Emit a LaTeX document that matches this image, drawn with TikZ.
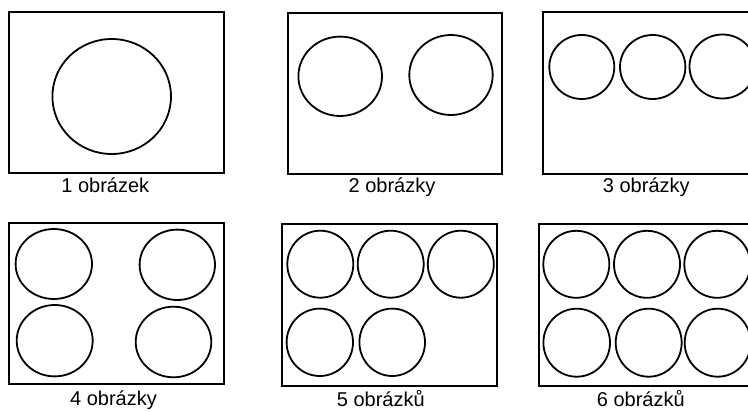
\documentclass[tikz,border=0pt]{standalone}
\usepackage{fontspec}
\setmainfont{Liberation Sans}
\begin{document}
\begin{tikzpicture}[x=1pt, y=-1pt, line width=1.9pt,
    caption/.style={anchor=base, inner sep=0pt, font=\fontsize{20}{24}\selectfont},
    ring/.style={line width=1.8pt}]
    \clip (0,0) rectangle (748,412);

    % 1 picture
    \draw (9,12) rectangle (224,173);
    \draw[ring] (111.7,96.5) ellipse (59.3pt and 57.5pt);
    \node[caption] (one) at (105.3,192.3) {1 obrázek};

    % 2 pictures
    \draw (287.7,12.7) rectangle (502.3,173.7);
    \draw[ring] (340.2,76.3) ellipse (41.8pt and 39.7pt);
    \draw[ring] (451,75) ellipse (41.7pt and 40pt);
    \node[caption] (two) at (392,192.3) {2 obrázky};

    % 3 pictures (cut off on the right)
    \draw (542.7,12.3) rectangle (770,173.7);
    \draw[ring] (581.8,67) ellipse (32.5pt and 32pt);
    \draw[ring] (652.7,67) ellipse (32.7pt and 32pt);
    \draw[ring] (722.5,66.5) ellipse (33pt and 32pt);
    \node[caption] (three) at (646.3,192.3) {3 obrázky};

    % 4 pictures
    \draw (9,223.3) rectangle (223.7,384.3);
    \draw[ring] (53.8,264) ellipse (38.2pt and 35pt);
    \draw[ring] (177.3,264.8) ellipse (37.7pt and 35.2pt);
    \draw[ring] (54.7,340.7) ellipse (38pt and 35.7pt);
    \draw[ring] (173.5,342) ellipse (37.8pt and 35.3pt);
    \node[caption] (four) at (113.5,405.7) {4 obrázky};

    % 5 pictures
    \draw (281.7,224) rectangle (497.3,386);
    \draw[ring] (320.3,264.2) ellipse (33pt and 33.5pt);
    \draw[ring] (390.7,264.2) ellipse (33pt and 33.5pt);
    \draw[ring] (460.8,264.2) ellipse (33pt and 33.5pt);
    \draw[ring] (319.8,342.3) ellipse (33.2pt and 33.7pt);
    \draw[ring] (392.2,342.3) ellipse (32.8pt and 33.7pt);
    \node[caption] (five) at (380.8,406.3) {5 obrázků};

    % 6 pictures (cut off on the right)
    \draw (539,224.3) rectangle (770,386);
    \draw[ring] (576.3,264.3) ellipse (33pt and 33.5pt);
    \draw[ring] (647,264.3) ellipse (33pt and 33.5pt);
    \draw[ring] (717.3,264.3) ellipse (33pt and 33.5pt);
    \draw[ring] (576.7,342.7) ellipse (33.3pt and 34pt);
    \draw[ring] (648.7,342.7) ellipse (33pt and 34pt);
    \draw[ring] (717.7,342.7) ellipse (33pt and 34pt);
    \node[caption] (six) at (640.8,406.3) {6 obrázků};
\end{tikzpicture}
\end{document}
